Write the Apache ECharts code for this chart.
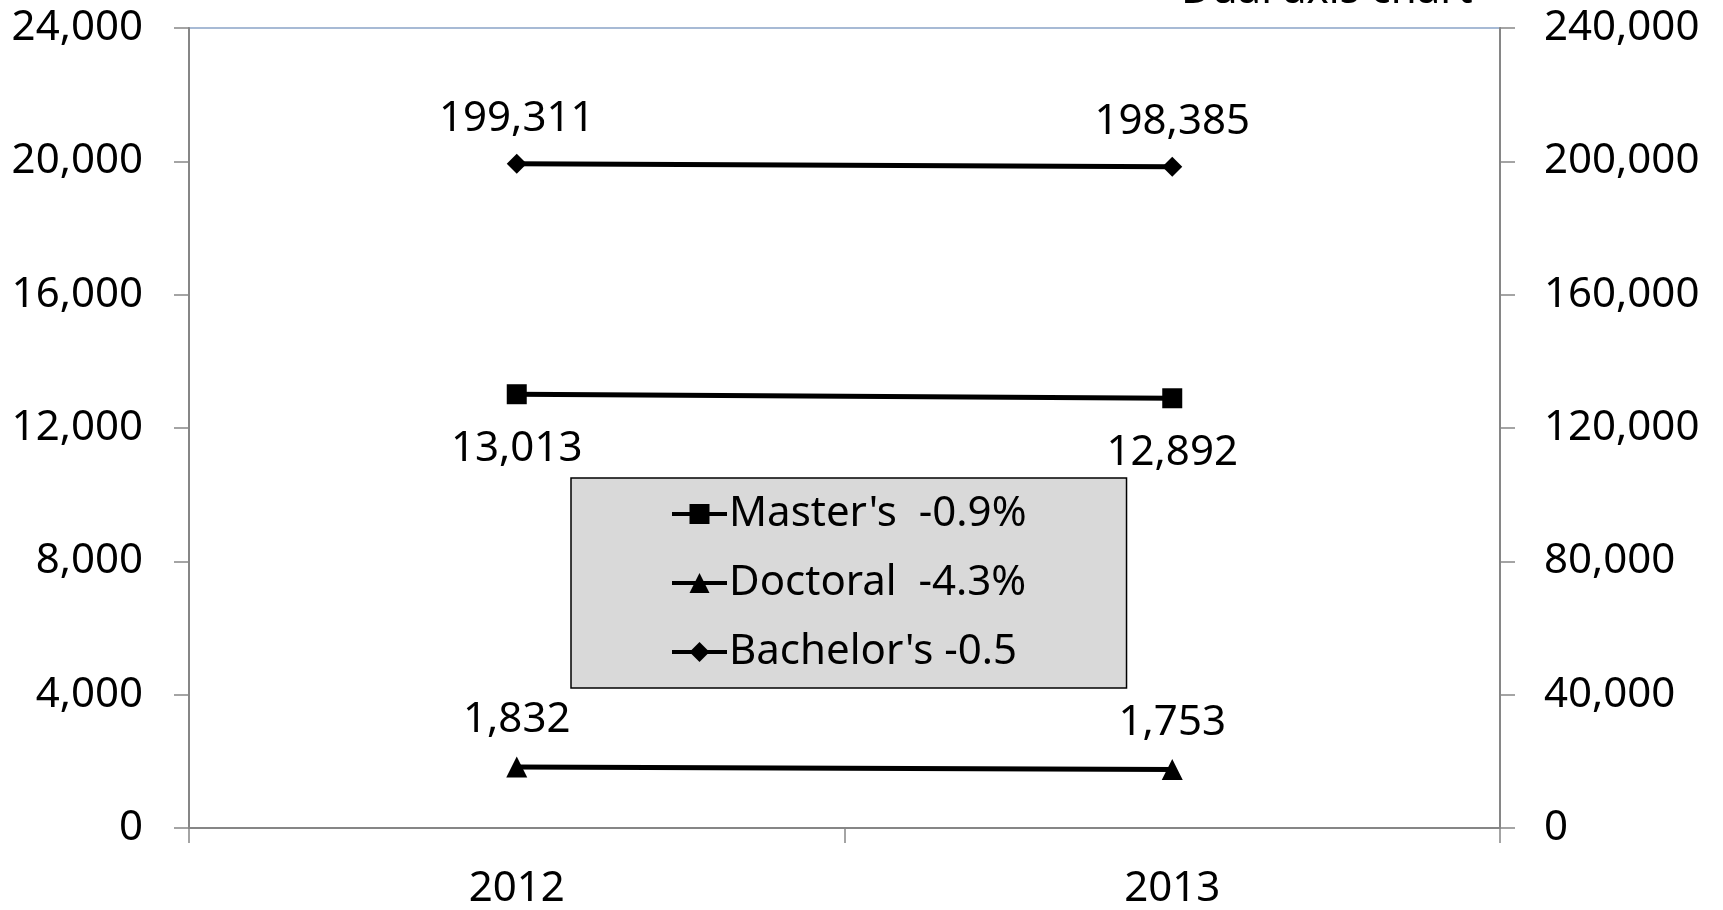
<!DOCTYPE html>
<html>
<head>
<meta charset="utf-8">
<title>Dual axis chart</title>
<script src="https://cdn.jsdelivr.net/npm/echarts@6/dist/echarts.min.js"></script>
<style>
  html, body { margin: 0; padding: 0; background: #ffffff; }
  #chart { width: 1723px; height: 910px; }
</style>
</head>
<body>
<div id="chart"></div>
<script>
// Degree completions by year; Bachelor's is read against the right-hand axis.
const years = ['2012', '2013'];
const mastersValues = [13013, 12892];
const doctoralValues = [1832, 1753];
const bachelorsValues = [199311, 198385];
const seriesNames = ["Master's  -0.9%", "Doctoral  -4.3%", "Bachelor's -0.5"];
const leftTicks = { min: 0, max: 24000, interval: 4000 };
const rightTicks = { min: 0, max: 240000, interval: 40000 };
const chartTitle = 'Dual axis chart';

const FONT = 'Noto Sans';
const FS = 42;
const fmt = v => Number(v).toLocaleString('en-US');

const axisGray = '#868686';

function valueAxis(ticks, position, margin) {
  return {
    type: 'value',
    position: position,
    min: ticks.min,
    max: ticks.max,
    interval: ticks.interval,
    axisLine: { show: true, lineStyle: { color: axisGray, width: 2 } },
    axisTick: { show: true, length: 15, lineStyle: { color: axisGray, width: 1.5 } },
    axisLabel: {
      formatter: fmt, color: '#000', fontFamily: FONT, fontSize: FS, margin: margin
    },
    splitLine: { show: false }
  };
}

function lineSeries(name, data, symbol, size, yIndex, labelPos, labelDist) {
  return {
    name: name,
    type: 'line',
    yAxisIndex: yIndex,
    data: data,
    symbol: symbol,
    symbolSize: size,
    showAllSymbol: true,
    lineStyle: { color: '#000', width: 5 },
    itemStyle: { color: '#000' },
    label: {
      show: true,
      position: labelPos,
      distance: labelDist,
      formatter: p => fmt(p.value),
      color: '#000',
      fontFamily: FONT,
      fontSize: FS
    },
    emphasis: { disabled: true },
    animation: false
  };
}

const chart = echarts.init(document.getElementById('chart'), null, { renderer: 'canvas' });

chart.setOption({
  backgroundColor: '#ffffff',
  animation: false,
  title: {
    text: chartTitle,
    left: 1181,
    top: -30,
    padding: 0,
    textStyle: { color: '#000', fontFamily: FONT, fontSize: FS, fontWeight: 'normal' }
  },
  grid: {
    left: 189,
    right: 223,
    top: 28,
    bottom: 81,
    show: true,
    borderColor: '#8aa4c8',
    borderWidth: 1.5,
    backgroundColor: 'transparent'
  },
  legend: {
    data: seriesNames,
    orient: 'vertical',
    left: 571,
    top: 478,
    padding: [11, 100, 11, 99],
    itemGap: 19,
    itemWidth: 55,
    itemHeight: 25,
    backgroundColor: '#d9d9d9',
    borderColor: '#000',
    borderWidth: 1.5,
    lineStyle: { width: 4, color: '#000' },
    textStyle: { color: '#000', fontFamily: FONT, fontSize: FS, lineHeight: 50, padding: [0, 0, 0, -3] },
    selectedMode: false
  },
  xAxis: {
    type: 'category',
    data: years,
    boundaryGap: true,
    axisLine: { show: true, lineStyle: { color: axisGray, width: 2 } },
    axisTick: { show: true, length: 15, alignWithLabel: false, lineStyle: { color: axisGray, width: 1.5 } },
    axisLabel: { color: '#000', fontFamily: FONT, fontSize: FS, margin: 40 }
  },
  yAxis: [
    valueAxis(leftTicks, 'left', 46),
    valueAxis(rightTicks, 'right', 44)
  ],
  series: [
    lineSeries(seriesNames[0], mastersValues, 'rect', 20, 0, 'bottom', 24),
    lineSeries(seriesNames[1], doctoralValues, 'triangle', 21, 0, 'top', 15),
    lineSeries(seriesNames[2], bachelorsValues, 'diamond', 20, 1, 'top', 14)
  ]
});
</script>
</body>
</html>
